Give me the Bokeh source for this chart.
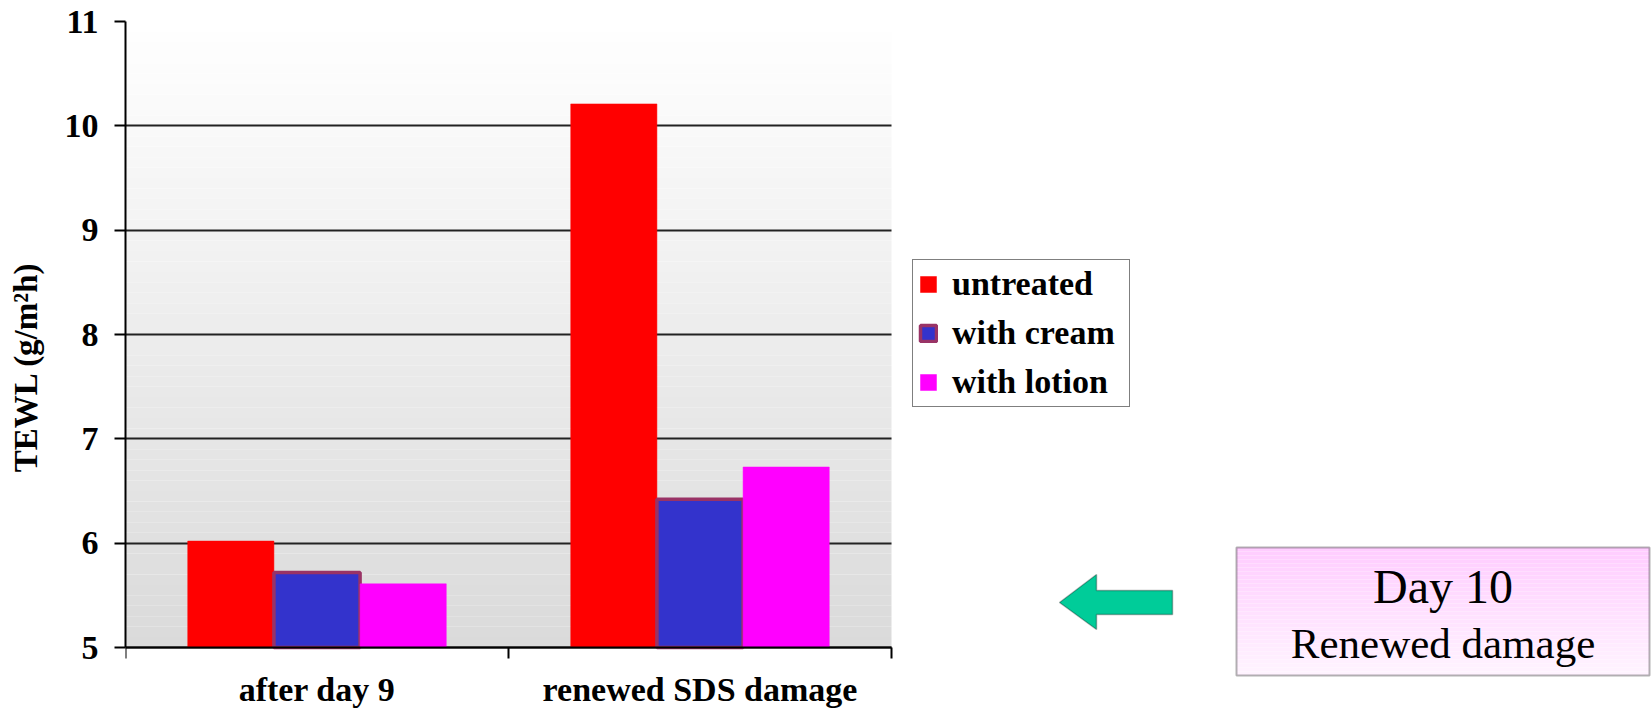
from bokeh.plotting import figure
from bokeh.models import (Range1d, FixedTicker, LinearAxis, Legend, LegendItem, Grid,
                          BoxAnnotation, PolyAnnotation, Label, ColumnDataSource)
from bokeh.embed import file_html
from bokeh.resources import INLINE

# ---- data ----
categories = ["after day 9", "renewed SDS damage"]
series_names = ["untreated", "with cream", "with lotion"]
untreated = [6.02, 10.21]
with_cream = [5.72, 6.42]
with_lotion = [5.61, 6.73]
y_ticks = [5, 6, 7, 8, 9, 10, 11]

fill_colors = ["#FF0000", "#3333CC", "#FF00FF"]
line_colors = ["#FF0000", "#993366", "#FF00FF"]
line_widths = [0.5, 3.5, 0.5]

W, H = 1652, 712
FL, FR, FT, FB = 125, 891, 21, 647   # chart-area edges in page pixels
ncat = len(categories)
ylo, yhi = y_ticks[0], y_ticks[-1]
x_end = ncat * (W - FL) / (FR - FL)          # frame reaches right edge
y_start = ylo - (H - FB) * (yhi - ylo) / (FB - FT)   # frame reaches bottom edge

p = figure(width=W, height=H, output_backend="svg", toolbar_location=None,
           x_range=Range1d(0, x_end), y_range=Range1d(y_start, yhi),
           x_axis_type=None, y_axis_type=None,
           min_border_left=FL, min_border_right=0,
           min_border_top=FT, min_border_bottom=0)
p.outline_line_color = None
p.background_fill_color = "#FFFFFF"
p.border_fill_color = "#FFFFFF"

def px2x(px):
    return (px - FL) / (FR - FL) * ncat

def px2y(py):
    return ylo + (FB - py) / (FB - FT) * (yhi - ylo)

# ---- chart-area background gradient (white -> light grey) ----
n_strips = 60
for i in range(n_strips):
    b = ylo + (yhi - ylo) * i / n_strips
    t = ylo + (yhi - ylo) * (i + 1) / n_strips
    frac = (i + 0.5) / n_strips
    g = int(round(0xDA + (0xFF - 0xDA) * frac))
    p.add_layout(BoxAnnotation(left=0, right=ncat, bottom=b, top=t,
                               fill_color="#%02x%02x%02x" % (g, g, g),
                               fill_alpha=1.0, line_color=None, level="image"))

# ---- axes ----
yaxis = LinearAxis(ticker=FixedTicker(ticks=y_ticks), bounds=(ylo, yhi))
yaxis.axis_line_color = "black"
yaxis.axis_line_width = 2
yaxis.major_tick_line_color = "black"
yaxis.major_tick_line_width = 2
yaxis.major_tick_in = 0
yaxis.major_tick_out = 11
yaxis.minor_tick_line_color = None
yaxis.major_label_text_font = "Liberation Serif"
yaxis.major_label_text_font_style = "bold"
yaxis.major_label_text_font_size = "34px"
yaxis.major_label_text_color = "black"
yaxis.major_label_standoff = 16
yaxis.axis_label = "TEWL (g/m²h)"
yaxis.axis_label_text_font = "Liberation Serif"
yaxis.axis_label_text_font_style = "bold"
yaxis.axis_label_text_font_size = "33px"
yaxis.axis_label_text_color = "black"
yaxis.axis_label_standoff = 18
p.add_layout(yaxis, "left")

centers = [i + 0.5 for i in range(ncat)]
bounds = [i for i in range(ncat + 1)]
xaxis = LinearAxis(ticker=FixedTicker(ticks=centers, minor_ticks=bounds),
                   bounds=(0, ncat), fixed_location=ylo)
xaxis.major_label_overrides = {c: lab for c, lab in zip(centers, categories)}
xaxis.axis_line_color = "black"
xaxis.axis_line_width = 2
xaxis.major_tick_line_color = None
xaxis.major_tick_in = 0
xaxis.major_tick_out = 0
xaxis.minor_tick_line_color = "black"
xaxis.minor_tick_line_width = 2
xaxis.minor_tick_in = 0
xaxis.minor_tick_out = 11
xaxis.major_label_text_font = "Liberation Serif"
xaxis.major_label_text_font_style = "bold"
xaxis.major_label_text_font_size = "34px"
xaxis.major_label_text_color = "black"
xaxis.major_label_standoff = 12
p.add_layout(xaxis, "below")

# ---- horizontal grid lines, limited to the chart area ----
if "cross_bounds" in Grid.properties():
    grid = Grid(dimension=1, ticker=yaxis.ticker, grid_line_color="#222222",
                grid_line_width=1.8, cross_bounds=(0, ncat))
    p.add_layout(grid)
else:
    p.segment(x0=[0] * len(y_ticks), x1=[ncat] * len(y_ticks), y0=y_ticks, y1=y_ticks,
              line_color="#222222", line_width=1.8)

# ---- bars ----
bar_w = 0.225
all_series = [untreated, with_cream, with_lotion]
renderers = []
for k, vals in enumerate(all_series):
    off = (k - 1) * bar_w
    src = ColumnDataSource(dict(x=[c + off for c in centers], top=vals,
                                bottom=[ylo] * len(vals)))
    r = p.vbar(x="x", top="top", bottom="bottom", width=bar_w, source=src,
               fill_color=fill_colors[k], line_color=line_colors[k],
               line_width=line_widths[k])
    renderers.append(r)

# ---- legend ----
legend = Legend(items=[LegendItem(label=n, renderers=[r]) for n, r in zip(series_names, renderers)],
                location=(912 - FL, H - 407))
legend.label_text_font = "Liberation Serif"
legend.label_text_font_style = "bold"
legend.label_text_font_size = "34px"
legend.label_text_color = "black"
legend.glyph_width = 20
legend.glyph_height = 20
legend.label_standoff = 14
legend.label_width = 172
legend.padding = 5
legend.spacing = 11
legend.margin = 0
legend.border_line_color = "black"
legend.border_line_width = 1.5
legend.background_fill_color = "white"
legend.background_fill_alpha = 1.0
p.add_layout(legend, "center")

# ---- arrow ----
ax_px = [1059, 1096, 1096, 1172, 1172, 1096, 1096]
ay_px = [602, 574, 590, 590, 614, 614, 629]
p.add_layout(PolyAnnotation(xs=[px2x(v) for v in ax_px], ys=[px2y(v) for v in ay_px],
                            fill_color="#00CC99", fill_alpha=1.0,
                            line_color="black", line_width=1.5))

# ---- pink note box ----
bl, br, bt, bb = 1236, 1649, 547, 675
n_box = 32
for i in range(n_box):
    t_px = bt + (bb - bt) * i / n_box
    b_px = bt + (bb - bt) * (i + 1) / n_box
    frac = (i + 0.5) / n_box
    gch = int(round(0xCC + (0xF4 - 0xCC) * frac))
    p.add_layout(BoxAnnotation(left=px2x(bl), right=px2x(br), top=px2y(t_px), bottom=px2y(b_px),
                               fill_color="#ff%02xff" % gch, fill_alpha=1.0,
                               line_color=None, level="annotation"))
p.add_layout(BoxAnnotation(left=px2x(bl), right=px2x(br), top=px2y(bt), bottom=px2y(bb),
                           fill_color=None, fill_alpha=0, line_color="black",
                           line_width=2, level="annotation"))
cx = (bl + br) / 2
p.add_layout(Label(x=px2x(cx), y=px2y(586), text="Day 10", text_align="center",
                   text_baseline="alphabetic", text_font="Liberation Serif",
                   text_font_size="48px", text_color="black"))
p.add_layout(Label(x=px2x(cx), y=px2y(643), text="Renewed damage", text_align="center",
                   text_baseline="alphabetic", text_font="Liberation Serif",
                   text_font_size="43px", text_color="black"))

open("out.html", "w").write(file_html(p, INLINE))
